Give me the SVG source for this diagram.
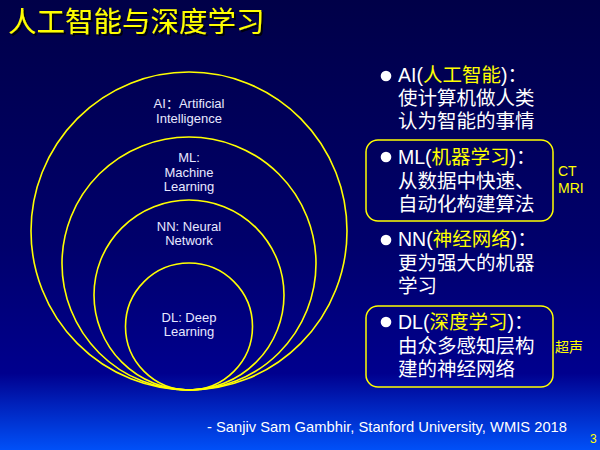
<svg xmlns="http://www.w3.org/2000/svg" width="600" height="450" viewBox="0 0 600 450">
<defs>
<linearGradient id="bg" x1="0" y1="0" x2="0" y2="1">
<stop offset="0" stop-color="#000048"/>
<stop offset="0.55" stop-color="#00006c"/>
<stop offset="0.83" stop-color="#00008e"/>
<stop offset="0.9" stop-color="#0022bc"/>
<stop offset="1" stop-color="#0050f8"/>
</linearGradient>
<filter id="shadow" x="-5%" y="-20%" width="115%" height="150%">
<feDropShadow dx="2" dy="2" stdDeviation="0.4" flood-color="#000000" flood-opacity="0.85"/>
</filter>
<style>
.ring{fill:none;stroke:#ffff00;stroke-width:1.6}
.lbl{font-family:"Liberation Sans","Noto Sans CJK SC",sans-serif;font-size:13px;fill:#e8e8ff;text-anchor:middle}
.body{font-family:"Liberation Sans","Noto Sans CJK SC",sans-serif;font-size:19.5px;fill:#ffffff}
.y{fill:#ffff00}
.side{font-family:"Liberation Sans","Noto Sans CJK SC",sans-serif;font-size:14px;fill:#ffff00}
.box{fill:none;stroke:#ffff00;stroke-width:1.5}
.dot{fill:#ffffff}
</style>
</defs>
<rect width="600" height="450" fill="url(#bg)"/>
<text x="8" y="32" font-family="'Noto Sans CJK SC',sans-serif" font-size="28.5" fill="#ffff00" filter="url(#shadow)">人工智能与深度学习</text>

<g id="ai">
<ellipse class="ring" cx="189" cy="231" rx="158" ry="159"/>
<text class="lbl" x="189" y="108">AI：Artificial</text>
<text class="lbl" x="189" y="123">Intelligence</text>
</g>
<g id="ml">
<ellipse class="ring" cx="189" cy="263.5" rx="127" ry="126.5"/>
<text class="lbl" x="189" y="162">ML:</text>
<text class="lbl" x="189" y="177">Machine</text>
<text class="lbl" x="189" y="191">Learning</text>
</g>
<g id="nn">
<ellipse class="ring" cx="189" cy="295" rx="95" ry="95"/>
<text class="lbl" x="189" y="231">NN: Neural</text>
<text class="lbl" x="189" y="245">Network</text>
</g>
<g id="dl">
<ellipse class="ring" cx="189" cy="326.5" rx="63.5" ry="63.5"/>
<text class="lbl" x="189" y="322">DL: Deep</text>
<text class="lbl" x="189" y="336">Learning</text>
</g>

<g id="def-ai">
<circle class="dot" cx="386" cy="76" r="5.3"/>
<text class="body" x="398" y="82">AI(<tspan class="y">人工智能</tspan>)：</text>
<text class="body" x="398" y="105">使计算机做人类</text>
<text class="body" x="398" y="128">认为智能的事情</text>
</g>
<g id="def-ml">
<rect class="box" x="366" y="140" width="187" height="81" rx="12"/>
<circle class="dot" cx="386" cy="157" r="5.3"/>
<text class="body" x="398" y="164">ML(<tspan class="y">机器学习</tspan>)：</text>
<text class="body" x="398" y="188">从数据中快速、</text>
<text class="body" x="398" y="211">自动化构建算法</text>
<text class="side" x="558" y="176">CT</text>
<text class="side" x="558" y="193">MRI</text>
</g>
<g id="def-nn">
<circle class="dot" cx="386" cy="240" r="5.3"/>
<text class="body" x="398" y="246">NN(<tspan class="y">神经网络</tspan>)：</text>
<text class="body" x="398" y="270">更为强大的机器</text>
<text class="body" x="398" y="293">学习</text>
</g>
<g id="def-dl">
<rect class="box" x="366" y="306" width="187" height="81" rx="12"/>
<circle class="dot" cx="386" cy="322" r="5.3"/>
<text class="body" x="398" y="329">DL(<tspan class="y">深度学习</tspan>)：</text>
<text class="body" x="398" y="353">由众多感知层构</text>
<text class="body" x="398" y="376">建的神经网络</text>
<text class="side" x="555" y="352">超声</text>
</g>

<text x="207" y="432" font-family="'Liberation Sans',sans-serif" font-size="14.5" fill="#ffffff" textLength="360" lengthAdjust="spacingAndGlyphs">- Sanjiv Sam Gambhir, Stanford University, WMIS 2018</text>
<text x="590" y="443" font-family="'Liberation Sans',sans-serif" font-size="12" fill="#ffff00">3</text>
</svg>
